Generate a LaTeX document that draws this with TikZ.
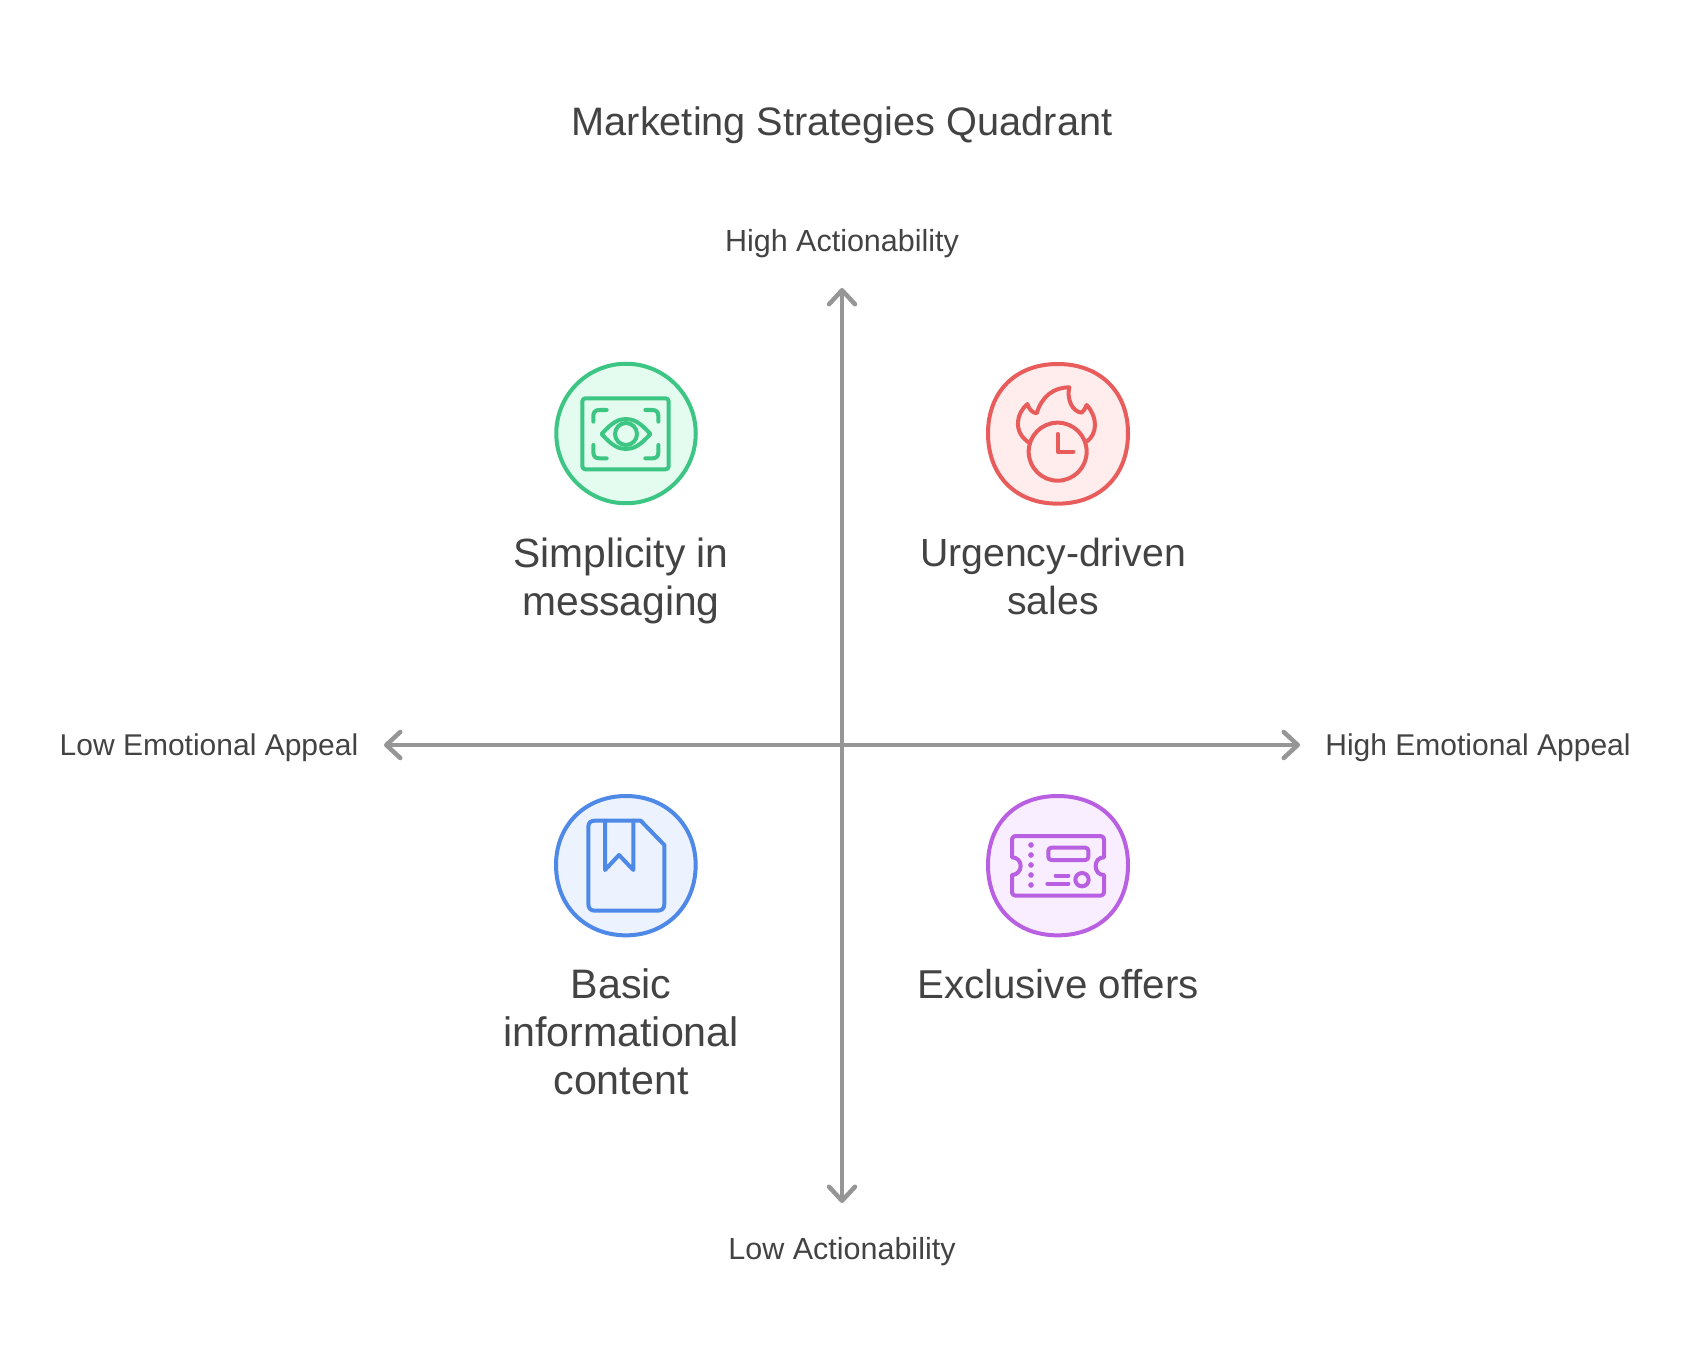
\documentclass[tikz,border=0pt]{standalone}
\usepackage{fontspec}
\setmainfont{Liberation Sans}
\usetikzlibrary{arrows.meta}
\definecolor{ink}{HTML}{434343}
\definecolor{axisgray}{HTML}{969696}
\definecolor{gs}{HTML}{3CC583}\definecolor{gf}{HTML}{E3FCEF}
\definecolor{rs}{HTML}{E85C5C}\definecolor{rf}{HTML}{FFECEC}
\definecolor{bs}{HTML}{4E89E8}\definecolor{bf}{HTML}{EDF3FE}
\definecolor{ps}{HTML}{B960E2}\definecolor{pf}{HTML}{F9EEFF}
\tikzset{
  titletext/.style={text=ink,inner sep=0pt,font=\fontsize{39.7}{45}\selectfont},
  axistext/.style={text=ink,inner sep=0pt,font=\fontsize{#1}{36}\selectfont},
  itemtext/.style={text=ink,inner sep=0pt,align=center,font=\fontsize{#1}{48}\selectfont},
  axisline/.style={draw=axisgray,line width=4.5pt,
    {Straight Barb[length=14pt,width=26pt,round]}-{Straight Barb[length=14pt,width=26pt,round]}},
  badge/.style={circle,minimum size=139.5pt,inner sep=0pt,line width=4pt},
  glyph/.style={line width=4pt,line cap=round,line join=round},
}
\begin{document}
\begin{tikzpicture}[x=1pt,y=-1pt]
\useasboundingbox (0,0) rectangle (1684,1372);
\fill[white] (0,0) rectangle (1684,1372);
\node[titletext] (title) at (842,125) {Marketing Strategies Quadrant};
\node[axistext=30.5] (hia) at (842,244) {High Actionability};
\node[axistext=30.5] (loa) at (842,1252) {Low Actionability};
\node[axistext=30] (loe) at (209,748) {Low Emotional Appeal};
\node[axistext=30] (hie) at (1478,748) {High Emotional Appeal};
\coordinate (axt) at (842,288);
\coordinate (axb) at (842,1203);
\coordinate (axl) at (384,745);
\coordinate (axr) at (1300,745);
\draw[axisline] (axb) -- (axt);
\draw[axisline] (axl) -- (axr);
% green
\node[badge,draw=gs,fill=gf] (simp) at (626,433.5) {};
\begin{scope}[shift={(540,350)},x=0.33333pt,y=-0.33333pt,glyph,draw=gs]
\draw[rounded corners=3pt] (127,145) rectangle (386,358);
\draw (200,180) -- (178,180) .. controls (166,180) and (160,186) .. (160,198) -- (160,215);
\draw (316,180) -- (337,180) .. controls (349,180) and (355,186) .. (355,198) -- (355,215);
\draw (160,285) -- (160,307) .. controls (160,319) and (166,325) .. (178,325) -- (200,325);
\draw (355,285) -- (355,307) .. controls (355,319) and (349,325) .. (337,325) -- (316,325);
\draw (185,252) .. controls (215,218) and (235,207) .. (258,207) .. controls (281,207) and (301,218) .. (331,252) .. controls (301,286) and (281,297) .. (258,297) .. controls (235,297) and (215,286) .. (185,252) -- cycle;
\draw (258,252) circle[radius=33];
\end{scope}
% red
\node[badge,draw=none] (urg) at (1057.7,433) {};
\begin{scope}[shift={(975,350)},x=0.33333pt,y=-0.33333pt,glyph,draw=rs]
\draw[line width=4pt,fill=rf] (248,42) .. controls (376,42) and (459,126) .. (459,250) .. controls (459,376) and (376,461) .. (248,461) .. controls (121,461) and (39,376) .. (39,250) .. controls (39,126) and (121,42) .. (248,42) -- cycle;
\draw (165,280) .. controls (137,262) and (127,240) .. (129,215) .. controls (130,195) and (142,175) .. (157,162) .. controls (162,178) and (172,188) .. (185,190) .. controls (200,140) and (235,112) .. (283,112) .. controls (275,145) and (290,185) .. (320,188) .. controls (326,182) and (332,175) .. (335,165) .. controls (350,180) and (360,205) .. (360,225) .. controls (360,245) and (350,265) .. (335,275);
\draw (248,305) circle[radius=87];
\draw (248,252) -- (248,305) -- (295,305);
\end{scope}
% blue
\node[badge,draw=none] (basic) at (626,865) {};
\begin{scope}[shift={(540,780)},x=0.33333pt,y=-0.33333pt,glyph,draw=bs]
\draw[line width=4pt,fill=bf] (258,48) .. controls (378,48) and (467,135) .. (467,255) .. controls (467,378) and (378,466) .. (258,466) .. controls (136,466) and (48,378) .. (48,255) .. controls (48,135) and (136,48) .. (258,48) -- cycle;
\draw (145,140) .. controls (145,128) and (152,122) .. (165,122) -- (302,122) -- (373,195) -- (373,372) .. controls (373,385) and (366,392) .. (353,392) -- (165,392) .. controls (152,392) and (145,385) .. (145,372) -- cycle;
\draw (195,122) -- (195,270) -- (237,225) -- (280,270) -- (280,122);
\end{scope}
% purple
\node[badge,draw=none] (excl) at (1058,865) {};
\begin{scope}[shift={(975,780)},x=0.33333pt,y=-0.33333pt,glyph,draw=ps]
\draw[line width=4pt,fill=pf] (248,48) .. controls (376,48) and (459,131) .. (459,255) .. controls (459,380) and (376,466) .. (248,466) .. controls (121,466) and (39,380) .. (39,255) .. controls (39,131) and (121,48) .. (248,48) -- cycle;
\draw (125,168) -- (373,168) .. controls (383,168) and (387,172) .. (387,182) -- (387,232) .. controls (371,232) and (362,243) .. (362,258) .. controls (362,273) and (371,285) .. (387,285) -- (387,333) .. controls (387,343) and (383,347) .. (373,347) -- (125,347) .. controls (115,347) and (111,343) .. (111,333) -- (111,285) .. controls (126,285) and (137,272) .. (137,258) .. controls (137,243) and (126,232) .. (111,232) -- (111,182) .. controls (111,172) and (115,168) .. (125,168) -- cycle;
\foreach \yy in {195,225,255,285,315} \fill[ps] (168,\yy) circle[radius=8.5];
\draw[rounded corners=3pt] (220,203) rectangle (340,240);
\draw (242,287) -- (280,287);
\draw (217,311) -- (280,311);
\draw (321,299) circle[radius=20];
\end{scope}
\node[itemtext=40.8] (simpt) at (621,580.5) {Simplicity in\\messaging};
\node[itemtext=39.2] (urgt) at (1053,576) {Urgency-driven\\sales};
\node[itemtext=41.2] (bast) at (621,1032) {Basic\\informational\\content};
\node[itemtext=40.3] (exct) at (1058,984) {Exclusive offers};
\end{tikzpicture}
\end{document}
